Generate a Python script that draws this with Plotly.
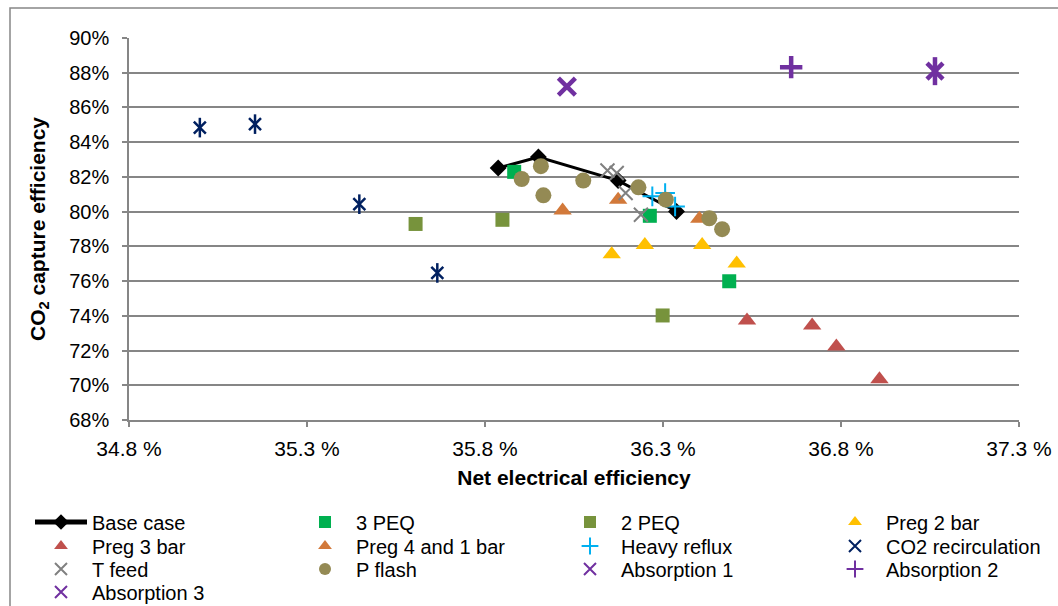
import plotly.graph_objects as go

# ---- data (net electrical efficiency %, CO2 capture efficiency %) ----
base_x = [35.837, 35.950, 36.174, 36.338]
base_y = [82.51, 83.15, 81.79, 80.01]

peq3_x = [35.882, 36.263, 36.486]
peq3_y = [82.29, 79.76, 75.99]

peq2_x = [35.605, 35.849, 36.299]
peq2_y = [79.29, 79.53, 74.02]

preg2_x = [36.156, 36.249, 36.410, 36.507]
preg2_y = [77.54, 78.08, 78.08, 77.01]

preg3_x = [36.536, 36.719, 36.787, 36.908]
preg3_y = [73.73, 73.44, 72.23, 70.35]

preg41_x = [36.018, 36.174, 36.402]
preg41_y = [80.07, 80.69, 79.59]

reflux_x = [36.270, 36.306, 36.334]
reflux_y = [80.88, 81.07, 80.30]

co2rec_x = [34.999, 35.154, 35.447, 35.666]
co2rec_y = [84.84, 85.04, 80.43, 76.47]

tfeed_x = [36.144, 36.170, 36.195, 36.238]
tfeed_y = [82.37, 82.23, 81.07, 79.82]

pflash_x = [35.903, 35.957, 35.964, 36.076, 36.231, 36.308, 36.430, 36.466]
pflash_y = [81.88, 82.62, 80.94, 81.79, 81.40, 80.69, 79.62, 78.99]

abs1_x = [37.064]
abs1_y = [88.09]
abs2_x = [36.660]
abs2_y = [88.32]
abs3_x = [36.030]
abs3_y = [87.20]

x_ticks = [34.8, 35.3, 35.8, 36.3, 36.8, 37.3]
x_ticktext = ["34.8 %", "35.3 %", "35.8 %", "36.3 %", "36.8 %", "37.3 %"]

FONT = "Liberation Sans, Arial, sans-serif"
GRID = "#868686"

W, H = 1058, 606
ML, MR, MT, MB = 129, 39, 38, 186
PW, PH = W - ML - MR, H - MT - MB


def px_x(p):
    return (p - ML) / PW


def px_y(p):
    return (H - MB - p) / PH


# legend grid (4 columns x 4 rows, row-major like the reference)
col_left = [30, 294, 559, 824]
row_mid = [522, 546, 569, 592]

fig = go.Figure()
legend_layouts = {}
counter = [0]


def next_legend():
    i = counter[0]
    counter[0] += 1
    r, c = divmod(i, 4)
    key = "legend" if i == 0 else f"legend{i + 1}"
    legend_layouts[key] = dict(
        x=px_x(col_left[c]), xanchor="left", y=px_y(row_mid[r]), yanchor="middle",
        font=dict(size=20, family=FONT, color="black"), bgcolor="rgba(0,0,0,0)",
        itemsizing="constant", itemwidth=52, borderwidth=0)
    return key


def sc(name, x, y, symbol, color, size, lw=0, show=True, legend=None):
    m = dict(symbol=symbol, color=color, size=size)
    m["line"] = dict(width=lw, color=color) if lw else dict(width=0)
    kw = {}
    if legend:
        kw["legend"] = legend
    fig.add_trace(go.Scatter(x=x, y=y, mode="markers", name=name, marker=m,
                             showlegend=show, **kw))


fig.add_trace(go.Scatter(x=base_x, y=base_y, mode="lines+markers", name="Base case",
                         line=dict(color="black", width=3),
                         marker=dict(symbol="diamond", size=13, color="black"),
                         legend=next_legend()))
sc("3 PEQ", peq3_x, peq3_y, "square", "#00B050", 14, legend=next_legend())
sc("2 PEQ", peq2_x, peq2_y, "square", "#77933C", 14, legend=next_legend())
sc("Preg 2 bar", preg2_x, preg2_y, "triangle-up", "#FFC000", 16, legend=next_legend())
sc("Preg 3 bar", preg3_x, preg3_y, "triangle-up", "#C0504D", 16, legend=next_legend())
sc("Preg 4 and 1 bar", preg41_x, preg41_y, "triangle-up", "#D2793A", 16, legend=next_legend())
sc("Heavy reflux", reflux_x, reflux_y, "cross-thin-open", "#00B0F0", 14, 2, legend=next_legend())
sc("CO2 recirculation", co2rec_x, co2rec_y, "x-thin-open", "#002060", 12, 2.5, legend=next_legend())
sc("T feed", tfeed_x, tfeed_y, "x-thin-open", "#808080", 14, 2, legend=next_legend())
sc("P flash", pflash_x, pflash_y, "circle", "#948A54", 16, legend=next_legend())
sc("Absorption 1", abs1_x, abs1_y, "x-thin-open", "#7030A0", 16, 4.5, legend=next_legend())
sc("Absorption 2", abs2_x, abs2_y, "cross-thin-open", "#7030A0", 16, 4.5, legend=next_legend())
sc("Absorption 3", abs3_x, abs3_y, "x-thin-open", "#7030A0", 17, 4.5, legend=next_legend())
# vertical strokes of the asterisk markers (no legend entries)
sc("CO2 recirculation", co2rec_x, co2rec_y, "line-ns-open", "#002060", 14, 2.5, show=False)
sc("Absorption 1", abs1_x, abs1_y, "line-ns-open", "#7030A0", 20, 4.5, show=False)

fig.update_layout(
    width=W, height=H,
    margin=dict(l=ML, r=MR, t=MT, b=MB, autoexpand=False),
    paper_bgcolor="white", plot_bgcolor="white",
    font=dict(family=FONT, color="black", size=19),
    xaxis=dict(range=[34.8, 37.3], tickvals=x_ticks, ticktext=x_ticktext,
               showgrid=False, zeroline=False, showline=True, linecolor=GRID, linewidth=1.5,
               ticks="outside", ticklen=5, tickcolor=GRID, tickwidth=1.5,
               tickfont=dict(size=21), ticklabelstandoff=4,
               title=dict(text="<b>Net electrical efficiency</b>", font=dict(size=21), standoff=11)),
    yaxis=dict(range=[68, 90], dtick=2, ticksuffix="%",
               showgrid=True, gridcolor=GRID, gridwidth=1.5, zeroline=False,
               showline=True, linecolor=GRID, linewidth=1.5,
               ticks="outside", ticklen=5, tickcolor=GRID, tickwidth=1.5,
               tickfont=dict(size=20), ticklabelstandoff=9,
               title=dict(text="<b>CO<sub>2</sub> capture efficiency</b>", font=dict(size=21), standoff=18)),
    showlegend=True,
    shapes=[dict(type="rect", xref="paper", yref="paper",
                 x0=px_x(10), x1=px_x(1075), y0=px_y(625), y1=px_y(8),
                 line=dict(color=GRID, width=1.5), fillcolor="rgba(0,0,0,0)", layer="below")],
)
fig.update_layout(**legend_layouts)

fig.write_html("out.html")
